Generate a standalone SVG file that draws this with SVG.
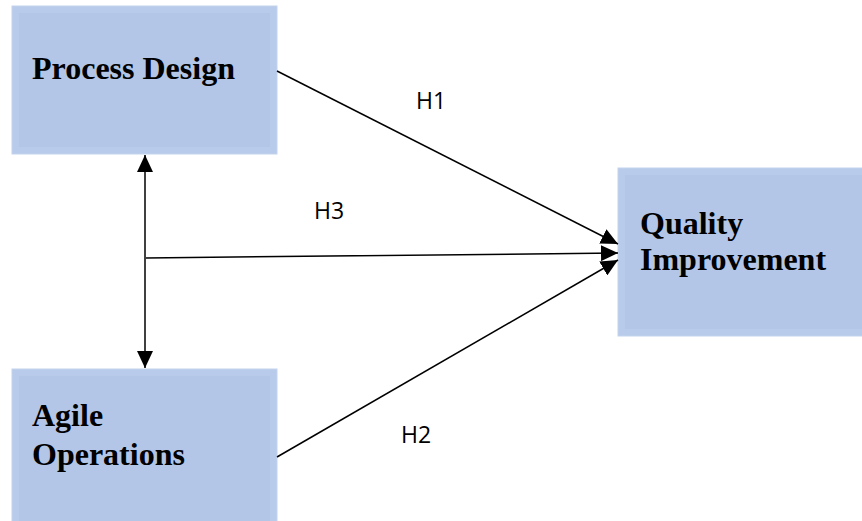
<svg xmlns="http://www.w3.org/2000/svg" width="862" height="521" viewBox="0 0 862 521">
<style>
.box{fill:#b9cbea;stroke:#c3d3ee;stroke-width:1}
.inner{fill:#b3c6e7}
.lbl{font-family:"Liberation Serif","Times New Roman",serif;font-weight:bold;font-size:32px;fill:#000}
.h{font-family:"Open Sans","Liberation Sans",sans-serif;font-size:23px;fill:#000}
.ln{stroke:#000;stroke-width:1.5;fill:none}
</style>
<defs>
<marker id="ah" markerUnits="userSpaceOnUse" markerWidth="18" markerHeight="16" refX="17" refY="8" orient="auto-start-reverse" viewBox="0 0 18 16">
<path d="M0,0 L17,8 L0,16 Z" fill="#000"/>
</marker>
</defs>
<rect width="862" height="521" fill="#fff"/>
<g id="process-design">
<rect class="box" x="12" y="6" width="265" height="148"/>
<rect class="inner" x="19" y="13" width="251" height="134"/>
<text class="lbl" x="32" y="79">Process Design</text>
</g>
<g id="quality-improvement">
<rect class="box" x="618" y="168" width="250" height="168"/>
<rect class="inner" x="625" y="175" width="240" height="154"/>
<text class="lbl" x="640" y="234">Quality</text>
<text class="lbl" x="640" y="270">Improvement</text>
</g>
<g id="agile-operations">
<rect class="box" x="12" y="369" width="265" height="160"/>
<rect class="inner" x="19" y="376" width="251" height="160"/>
<text class="lbl" x="32" y="426">Agile</text>
<text class="lbl" x="32" y="465">Operations</text>
</g>
<g id="connectors">
<line class="ln" x1="145" y1="155" x2="145" y2="368" marker-start="url(#ah)" marker-end="url(#ah)"/>
<line class="ln" x1="277" y1="71" x2="618" y2="244" marker-end="url(#ah)"/>
<line class="ln" x1="146" y1="258" x2="618" y2="253" marker-end="url(#ah)"/>
<line class="ln" x1="277" y1="457" x2="618" y2="260" marker-end="url(#ah)"/>
<text class="h" x="416" y="109">H1</text>
<text class="h" x="314" y="219">H3</text>
<text class="h" x="401" y="443">H2</text>
</g>
</svg>
